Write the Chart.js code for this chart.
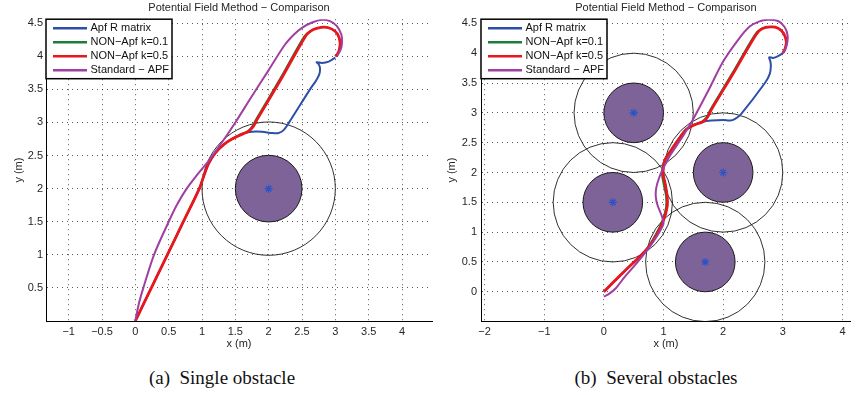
<!DOCTYPE html>
<html>
<head>
<meta charset="utf-8">
<script src="https://cdn.jsdelivr.net/npm/chart.js@4.4.1/dist/chart.umd.min.js"></script>
<style>
  html, body { margin: 0; padding: 0; background: #fff; }
  #wrap { position: relative; width: 856px; height: 395px; overflow: hidden; }
  canvas { position: absolute; top: 0; }
  #cvA { left: 0; }
  #cvB { left: 430px; }
  .cap {
    position: absolute; top: 367px; line-height: 22px;
    font: 19px "Liberation Serif", "Times New Roman", serif; color: #111;
    white-space: pre; transform: translateX(-50%);
  }
</style>
</head>
<body>
<div id="wrap">
  <canvas id="cvA" width="440" height="356"></canvas>
  <canvas id="cvB" width="426" height="356"></canvas>
  <div class="cap" style="left:222px">(a)&ensp;Single obstacle</div>
  <div class="cap" style="left:656px">(b)&ensp;Several obstacles</div>
</div>
<script>
'use strict';

// ---- data: (a) single obstacle ----
var blueAX   = [0, 0.24, 0.48, 0.72, 0.96, 1.03, 1.1, 1.2, 1.33, 1.47, 1.6, 1.75, 1.9, 2.05, 2.15, 2.22, 2.3, 2.62, 2.71, 2.76, 2.77, 2.75, 2.72, 2.8, 2.9, 3.0];
var blueAY   = [0, 0.5, 1.0, 1.5, 2.0, 2.2, 2.38, 2.54, 2.67, 2.76, 2.83, 2.86, 2.86, 2.84, 2.84, 2.88, 2.99, 3.5, 3.63, 3.73, 3.82, 3.88, 3.91, 3.9, 3.92, 3.98];
var greenAX  = [0, 0.24, 0.48, 0.72, 0.96, 1.03, 1.1, 1.2, 1.33, 1.47, 1.6, 1.69, 1.75, 1.81, 2.18, 2.53, 2.62, 2.72, 2.84, 2.95, 3.03, 3.07, 3.06, 3.03, 3.0];
var greenAY  = [0, 0.5, 1.0, 1.5, 2.0, 2.2, 2.38, 2.54, 2.67, 2.76, 2.82, 2.87, 2.94, 3.05, 3.68, 4.3, 4.38, 4.42, 4.44, 4.41, 4.34, 4.22, 4.1, 4.03, 4.0];
var redAX    = [0, 0.24, 0.48, 0.72, 0.96, 1.03, 1.1, 1.2, 1.33, 1.47, 1.6, 1.7, 1.77, 1.83, 2.2, 2.55, 2.63, 2.72, 2.84, 2.95, 3.03, 3.07, 3.06, 3.03, 3.0];
var redAY    = [0, 0.5, 1.0, 1.5, 2.0, 2.2, 2.38, 2.54, 2.67, 2.76, 2.82, 2.87, 2.94, 3.05, 3.68, 4.3, 4.38, 4.42, 4.44, 4.41, 4.34, 4.22, 4.1, 4.03, 4.0];
var purpleAX = [0, 0.05, 0.12, 0.28, 0.5, 0.62, 0.77, 0.92, 1.1, 1.3, 1.5, 1.75, 2.0, 2.24, 2.38, 2.5, 2.65, 2.8, 2.92, 3.02, 3.09, 3.1, 3.08, 3.03];
var purpleAY = [0, 0.25, 0.5, 1.0, 1.5, 1.75, 2.0, 2.2, 2.42, 2.7, 3.0, 3.4, 3.79, 4.17, 4.33, 4.43, 4.51, 4.55, 4.53, 4.46, 4.33, 4.2, 4.1, 4.01];
var obsAX = [2];
var obsAY = [2];

// ---- data: (b) several obstacles ----
var blueBX   = [0, 0.35, 0.71, 0.88, 1.0, 1.06, 1.06, 1.03, 0.99, 1.02, 1.12, 1.25, 1.38, 1.52, 1.66, 1.8, 2.0, 2.12, 2.2, 2.3, 2.7, 2.78, 2.8, 2.79, 2.77, 2.84, 2.92, 3.0];
var blueBY   = [0, 0.35, 0.7, 0.95, 1.2, 1.42, 1.6, 1.8, 2.0, 2.2, 2.36, 2.55, 2.72, 2.8, 2.85, 2.87, 2.88, 2.87, 2.9, 2.98, 3.5, 3.65, 3.78, 3.87, 3.93, 3.92, 3.95, 4.0];
var greenBX  = [0, 0.35, 0.7, 0.86, 0.98, 1.04, 1.04, 1.0, 0.97, 1.01, 1.11, 1.24, 1.37, 1.51, 1.64, 1.72, 1.78, 2.16, 2.53, 2.64, 2.8, 2.92, 3.01, 3.06, 3.04, 3.0];
var greenBY  = [0, 0.35, 0.7, 0.95, 1.2, 1.42, 1.6, 1.8, 2.0, 2.2, 2.36, 2.55, 2.72, 2.8, 2.85, 2.93, 3.05, 3.68, 4.31, 4.41, 4.44, 4.42, 4.34, 4.2, 4.08, 4.0];
var redBX    = [0, 0.35, 0.71, 0.88, 1.0, 1.06, 1.06, 1.03, 0.99, 1.02, 1.12, 1.25, 1.38, 1.52, 1.66, 1.74, 1.8, 2.18, 2.55, 2.65, 2.8, 2.92, 3.01, 3.06, 3.04, 3.0];
var redBY    = [0, 0.35, 0.7, 0.95, 1.2, 1.42, 1.6, 1.8, 2.0, 2.2, 2.36, 2.55, 2.72, 2.8, 2.85, 2.93, 3.05, 3.68, 4.31, 4.41, 4.44, 4.42, 4.34, 4.2, 4.08, 4.0];
var purpleBX = [0, 0.08, 0.2, 0.35, 0.5, 0.65, 0.8, 0.93, 1.0, 0.96, 0.9, 0.87, 0.88, 0.93, 1.0, 1.1, 1.22, 1.35, 1.49, 1.75, 2.0, 2.27, 2.45, 2.6, 2.75, 2.92, 3.03, 3.08, 3.07, 3.03, 3.0];
var purpleBY = [-0.08, -0.04, 0.06, 0.25, 0.42, 0.6, 0.8, 1.0, 1.15, 1.3, 1.45, 1.6, 1.75, 1.92, 2.08, 2.27, 2.45, 2.65, 2.88, 3.37, 3.86, 4.25, 4.45, 4.53, 4.56, 4.54, 4.44, 4.3, 4.15, 4.04, 4.0];
var obsBX = [0.5, 2, 0.15, 1.7];
var obsBY = [3, 2, 1.5, 0.5];

var innerR = 0.5;
var outerR = 1;

var xTicksA = [-1, -0.5, 0, 0.5, 1, 1.5, 2, 2.5, 3, 3.5, 4];
var yTicksA = [0.5, 1, 1.5, 2, 2.5, 3, 3.5, 4, 4.5];
var xTicksB = [-2, -1, 0, 1, 2, 3, 4];
var yTicksB = [0, 0.5, 1, 1.5, 2, 2.5, 3, 3.5, 4, 4.5];

var labels = ['Apf R matrix', 'NON\u2212Apf k=0.1', 'NON\u2212Apf k=0.5', 'Standard \u2212 APF'];
var colors = ['#2d4fa6', '#1b7d3d', '#e8161d', '#a03ea2'];
var widths = [2, 1.6, 2.8, 2];

var FONT = '"Liberation Sans", Arial, Helvetica, sans-serif';
var TEXT = '#262626';

/** 两个数组合成点列 */
function toPoints(xs, ys) {
  return xs.map(function (x, i) { return { x: x, y: ys[i] }; });
}

/** 路径数据集 */
function pathSet(i, xs, ys) {
  return {
    label: labels[i],
    data: toPoints(xs, ys),
    showLine: true,
    borderColor: colors[i],
    backgroundColor: colors[i],
    borderWidth: widths[i],
    pointRadius: 0,
    tension: 0.3,
    fill: false,
    order: 4 - i,
    inLegend: true
  };
}

/** 障碍中心 */
function centerSet(xs, ys) {
  return {
    label: 'centers',
    data: toPoints(xs, ys),
    showLine: false,
    pointStyle: 'star',
    pointRadius: 4,
    borderColor: '#2a52c9',
    borderWidth: 1.2,
    order: 0
  };
}

/** 障碍圆：内圆填充，外圆描边 */
function obstaclePlugin(ox, oy) {
  return {
    id: 'obstacles',
    beforeDatasetsDraw: function (chart) {
      var ctx = chart.ctx, xs = chart.scales.x, ys = chart.scales.y, a = chart.chartArea;
      ctx.save();
      ctx.beginPath();
      ctx.rect(a.left, a.top, a.right - a.left, a.bottom - a.top);
      ctx.clip();
      ox.forEach(function (cx0, i) {
        var cx = xs.getPixelForValue(cx0);
        var cy = ys.getPixelForValue(oy[i]);
        var ro = xs.getPixelForValue(cx0 + outerR) - cx;
        var ri = xs.getPixelForValue(cx0 + innerR) - cx;
        ctx.beginPath();
        ctx.arc(cx, cy, ro, 0, Math.PI * 2);
        ctx.strokeStyle = '#1a1a1a';
        ctx.lineWidth = 0.9;
        ctx.stroke();
        ctx.beginPath();
        ctx.arc(cx, cy, ri, 0, Math.PI * 2);
        ctx.fillStyle = '#7d6398';
        ctx.fill();
        ctx.lineWidth = 1;
        ctx.stroke();
      });
      ctx.restore();
    }
  };
}

/** MATLAB 风格图例框，左上角 */
var boxLegend = {
  id: 'boxLegend',
  afterDraw: function (chart) {
    var ctx = chart.ctx, a = chart.chartArea;
    var x0 = a.left, y0 = a.top, w = 126, h = 59.5;
    ctx.save();
    ctx.fillStyle = '#fff';
    ctx.fillRect(x0, y0, w, h);
    ctx.strokeStyle = '#000';
    ctx.lineWidth = 1.5;
    ctx.strokeRect(x0, y0, w, h);
    ctx.font = '11px ' + FONT;
    ctx.textBaseline = 'middle';
    var row = 0;
    chart.data.datasets.forEach(function (ds) {
      if (!ds.inLegend) return;
      var y = y0 + 9 + row * 14;
      ctx.beginPath();
      ctx.moveTo(x0 + 7, y);
      ctx.lineTo(x0 + 41, y);
      ctx.strokeStyle = ds.borderColor;
      ctx.lineWidth = 2.4;
      ctx.stroke();
      ctx.fillStyle = '#111';
      ctx.fillText(ds.label, x0 + 44.5, y);
      row++;
    });
    ctx.restore();
  }
};

function fmt(v) {
  return String(v).replace('-', '\u2212');
}

/** 坐标轴配置 */
function axis(min, max, ticks, title, isX, size, titlePad) {
  return {
    type: 'linear',
    min: min,
    max: max,
    afterBuildTicks: function (s) {
      s.ticks = ticks.map(function (v) { return { value: v }; });
    },
    afterFit: function (s) {
      if (isX) s.height = size; else s.width = size;
    },
    grid: { color: 'rgba(0,0,0,0.65)', lineWidth: 1, drawTicks: false },
    border: { display: true, color: '#000', width: 1, dash: [1, 4] },
    ticks: {
      autoSkip: false,
      maxRotation: 0,
      padding: isX ? 4 : titlePad.tick,
      color: TEXT,
      font: { family: FONT, size: 11 },
      callback: function (v) { return fmt(v); }
    },
    title: {
      display: true,
      text: title,
      color: TEXT,
      font: { family: FONT, size: 11 },
      padding: titlePad.title
    }
  };
}

function makeChart(id, sets, ox, oy, xr, yr, xt, yt, yW, yPad, rightPad) {
  return new Chart(document.getElementById(id), {
    type: 'scatter',
    data: { datasets: sets },
    options: {
      responsive: false,
      animation: false,
      layout: { padding: { left: 0, right: rightPad, top: 0, bottom: 0 } },
      plugins: {
        legend: { display: false },
        tooltip: { enabled: false },
        title: {
          display: true,
          fullSize: false,
          text: 'Potential Field Method \u2212 Comparison',
          color: TEXT,
          font: { family: FONT, size: 11, weight: 'normal' },
          padding: { top: 1, bottom: 5 }
        }
      },
      scales: {
        x: axis(xr[0], xr[1], xt, 'x (m)', true, 35, { title: { top: 0, bottom: 5 } }),
        y: axis(yr[0], yr[1], yt, 'y (m)', false, yW, { tick: yPad.tick, title: { top: yPad.title, bottom: 0 } })
      }
    },
    plugins: [obstaclePlugin(ox, oy), boxLegend]
  });
}

makeChart('cvA', [
  pathSet(0, blueAX, blueAY),
  pathSet(1, greenAX, greenAY),
  pathSet(2, redAX, redAY),
  pathSet(3, purpleAX, purpleAY),
  centerSet(obsAX, obsAY)
], obsAX, obsAY, [-1.34, 4.45], [0, 4.56], xTicksA, yTicksA, 46, { tick: 3, title: 12.4 }, 8);

makeChart('cvB', [
  pathSet(0, blueBX, blueBY),
  pathSet(1, greenBX, greenBY),
  pathSet(2, redBX, redBY),
  pathSet(3, purpleBX, purpleBY),
  centerSet(obsBX, obsBY)
], obsBX, obsBY, [-2.06, 4.14], [-0.49, 4.57], xTicksB, yTicksB, 51, { tick: 4, title: 15 }, 4);
</script>
</body>
</html>
